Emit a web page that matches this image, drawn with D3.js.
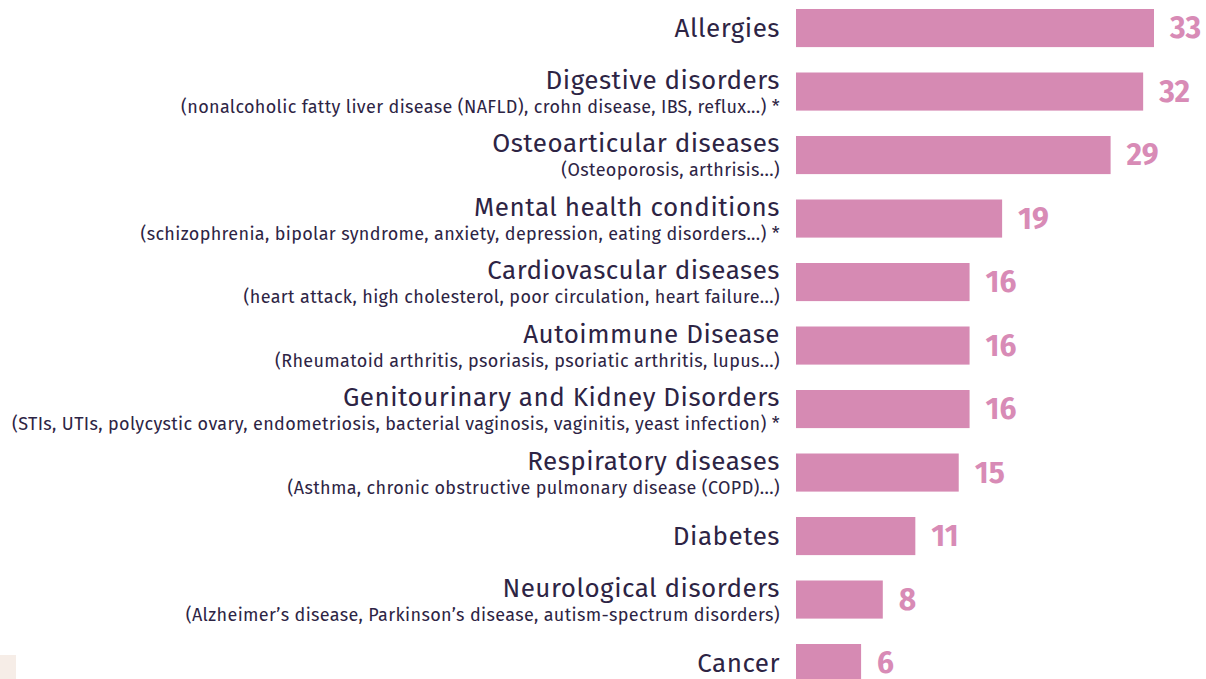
<!DOCTYPE html>
<html>
<head>
<meta charset="utf-8">
<script src="https://cdn.jsdelivr.net/npm/d3@7"></script>
<style>
  html, body { margin: 0; padding: 0; background: #ffffff; }
  svg { display: block; }
</style>
</head>
<body>
<svg id="chart" width="1206" height="679"></svg>
<script>
// Conditions and share of respondents (%)
const categories = [
  "Allergies",
  "Digestive disorders",
  "Osteoarticular diseases",
  "Mental health conditions",
  "Cardiovascular diseases",
  "Autoimmune Disease",
  "Genitourinary and Kidney Disorders",
  "Respiratory diseases",
  "Diabetes",
  "Neurological disorders",
  "Cancer"
];
const details = [
  "",
  "(nonalcoholic fatty liver disease (NAFLD), crohn disease, IBS, reflux...) *",
  "(Osteoporosis, arthrisis...)",
  "(schizophrenia, bipolar syndrome, anxiety, depression, eating disorders...) *",
  "(heart attack, high cholesterol, poor circulation, heart failure...)",
  "(Rheumatoid arthritis, psoriasis, psoriatic arthritis, lupus...)",
  "(STIs, UTIs, polycystic ovary, endometriosis, bacterial vaginosis, vaginitis, yeast infection) *",
  "(Asthma, chronic obstructive pulmonary disease (COPD)...)",
  "",
  "(Alzheimer\u2019s disease, Parkinson\u2019s disease, autism-spectrum disorders)",
  ""
];
const values = [33, 32, 29, 19, 16, 16, 16, 15, 11, 8, 6];

const rows = categories.map((c, i) => ({ name: c, detail: details[i], value: values[i] }));

const svg = d3.select("#chart");
const font = "'Fira Sans', 'Noto Sans', 'Open Sans', sans-serif";
const ink = "#2d2444";
const pink = "#d68ab3";

const y = d3.scaleBand()
  .domain(categories)
  .range([-3.7, 694.8])
  .paddingInner(0.4)
  .paddingOuter(0.2);

const x = d3.scaleLinear()
  .domain([0, 33])
  .range([796, 1154]);

// small corner swatch
svg.append("rect")
  .attr("x", 0).attr("y", 655)
  .attr("width", 16).attr("height", 24)
  .attr("fill", "#f6ede7");

const row = svg.selectAll("g.row")
  .data(rows)
  .join("g")
  .attr("class", "row");

row.append("rect")
  .attr("x", x(0))
  .attr("y", d => y(d.name))
  .attr("width", d => x(d.value) - x(0))
  .attr("height", y.bandwidth())
  .attr("fill", pink);

row.append("text")
  .attr("x", d => x(d.value) + 16)
  .attr("y", d => y(d.name) + y.bandwidth() / 2 + 10)
  .attr("font-family", font)
  .attr("font-weight", 700)
  .attr("font-size", 30)
  .attr("fill", "#d88bb6")
  .text(d => d.value);

row.append("text")
  .attr("x", 780)
  .attr("y", d => y(d.name) + y.bandwidth() / 2 + (d.detail ? -3 : 9))
  .attr("text-anchor", "end")
  .attr("font-family", font)
  .attr("font-size", 26)
  .attr("letter-spacing", 0.5)
  .attr("fill", ink)
  .text(d => d.name);

row.filter(d => d.detail).append("text")
  .attr("x", 780)
  .attr("y", d => y(d.name) + y.bandwidth() / 2 + 21)
  .attr("text-anchor", "end")
  .attr("font-family", font)
  .attr("font-size", 18)
  .attr("letter-spacing", 0.35)
  .attr("fill", ink)
  .text(d => d.detail);
</script>
</body>
</html>
